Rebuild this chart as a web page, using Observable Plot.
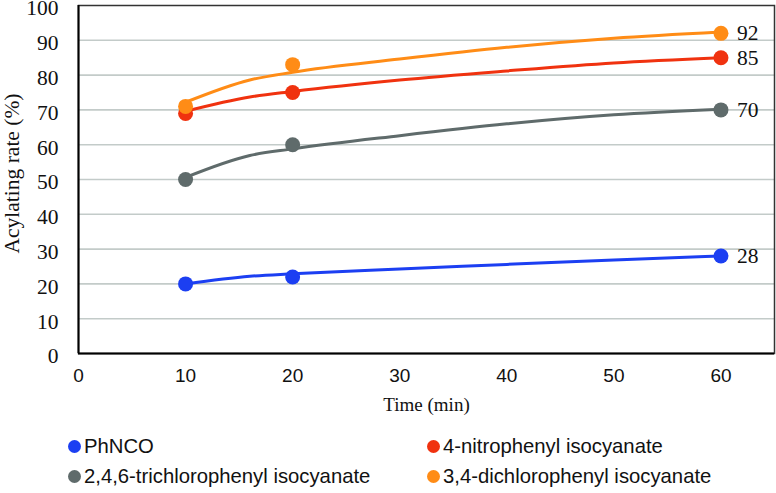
<!DOCTYPE html>
<html>
<head>
<meta charset="utf-8">
<script src="https://cdn.jsdelivr.net/npm/d3@7"></script>
<script src="https://cdn.jsdelivr.net/npm/@observablehq/plot@0.6"></script>
<style>
  html, body { margin: 0; padding: 0; background: #fff; }
  #wrap { position: relative; width: 776px; height: 493px; }
  #legend { position: absolute; left: 0; top: 420px; width: 776px; height: 73px;
            font-family: "Liberation Sans", Arial, sans-serif; font-size: 20.3px; color: #111; }
  .item { position: absolute; display: flex; align-items: center; white-space: nowrap; }
  .sw { width: 13px; height: 13px; border-radius: 50%; margin-right: 3px; }
</style>
</head>
<body>
<div id="wrap"><div id="chart"></div><div id="legend"></div></div>
<script>
// Measured acylating rates (%) at each sampling time (min)
const times = [10, 20, 60];
const phnco = [20, 22, 28];
const nitro = [69, 75, 85];
const trichloro = [50, 60, 70];
const dichloro = [71, 83, 92];

// Fitted trend curves, sampled along the time axis
const trendTimes = [10, 16, 20, 30, 40, 50, 60];
const phncoTrend = [20.0, 22.2, 22.9, 24.3, 25.6, 26.9, 28.0];
const nitroTrend = [69.6, 73.7, 75.3, 78.6, 81.2, 83.5, 85.0];
const trichloroTrend = [50.6, 56.9, 58.8, 62.6, 66.0, 68.6, 70.2];
const dichloroTrend = [72.2, 78.6, 80.8, 84.6, 88.0, 90.6, 92.4];

const seriesNames = ["PhNCO", "4-nitrophenyl isocyanate", "2,4,6-trichlorophenyl isocyanate", "3,4-dichlorophenyl isocyanate"];
const seriesColors = ["#1c3ff2", "#f0320f", "#5f6b6b", "#ff8c16"];
const xTicks = [0, 10, 20, 30, 40, 50, 60];
const yTicks = [0, 10, 20, 30, 40, 50, 60, 70, 80, 90, 100];
const gridTicks = [10, 20, 30, 40, 50, 60, 70, 80, 90];

const measured = [phnco, nitro, trichloro, dichloro];
const trends = [phncoTrend, nitroTrend, trichloroTrend, dichloroTrend];

const points = seriesNames.flatMap((s, i) => times.map((t, j) => ({series: s, t, v: measured[i][j]})));
const curves = seriesNames.flatMap((s, i) => trendTimes.map((t, j) => ({series: s, t, v: trends[i][j]})));
const endLabels = seriesNames.map((s, i) => ({series: s, t: times[times.length - 1], v: measured[i][times.length - 1]}));

const serif = "'Liberation Serif', 'Times New Roman', serif";
const sans = "'Liberation Sans', Arial, sans-serif";

const chart = Plot.plot({
  width: 776,
  height: 420,
  marginLeft: 78,
  marginRight: 2,
  marginTop: 5,
  marginBottom: 67,
  style: {background: "#fff", color: "#111", overflow: "visible"},
  x: {domain: [0, 65]},
  y: {domain: [0, 100]},
  color: {domain: seriesNames, range: seriesColors},
  marks: [
    Plot.ruleY(gridTicks, {stroke: "#c3cbc9", strokeWidth: 1.6}),
    Plot.frame({stroke: "#333", strokeWidth: 1.5}),
    Plot.ruleX([0], {stroke: "#000", strokeWidth: 2}),
    Plot.ruleY([0], {stroke: "#000", strokeWidth: 2}),
    Plot.axisY(yTicks, {tickSize: 0, tickPadding: 20, dy: 3, fontSize: 21.5, fontFamily: serif, label: null}),
    Plot.axisX(xTicks, {tickSize: 0, tickPadding: 15, fontSize: 19, fontFamily: sans, label: null}),
    Plot.text(["Time (min)"], {frameAnchor: "bottom", lineAnchor: "middle", dy: 51, fontFamily: serif, fontSize: 19, fill: "#111"}),
    Plot.text(["Acylating rate (%)"], {frameAnchor: "left", textAnchor: "middle", lineAnchor: "middle", dx: -66, dy: -6, rotate: -90, fontFamily: serif, fontSize: 21.5, fill: "#111"}),
    Plot.line(curves, {x: "t", y: "v", z: "series", stroke: "series", strokeWidth: 3, curve: "monotone-x"}),
    Plot.dot(points, {x: "t", y: "v", fill: "series", r: 7.5}),
    Plot.text(endLabels, {x: "t", y: "v", text: d => String(d.v), dx: 16, textAnchor: "start", fontFamily: serif, fontSize: 21.5, fill: "#111"})
  ]
});
document.getElementById("chart").appendChild(chart);

// Two-column legend below the plot
const legend = document.getElementById("legend");
const slots = [[68, 26], [427, 26], [68, 56], [427, 56]];
seriesNames.forEach((name, i) => {
  const item = document.createElement("div");
  item.className = "item";
  item.style.left = slots[i][0] + "px";
  item.style.top = (slots[i][1] - 12) + "px";
  item.style.height = "24px";
  const sw = document.createElement("span");
  sw.className = "sw";
  sw.style.background = seriesColors[i];
  const label = document.createElement("span");
  label.textContent = name;
  item.appendChild(sw);
  item.appendChild(label);
  legend.appendChild(item);
});
</script>
</body>
</html>
